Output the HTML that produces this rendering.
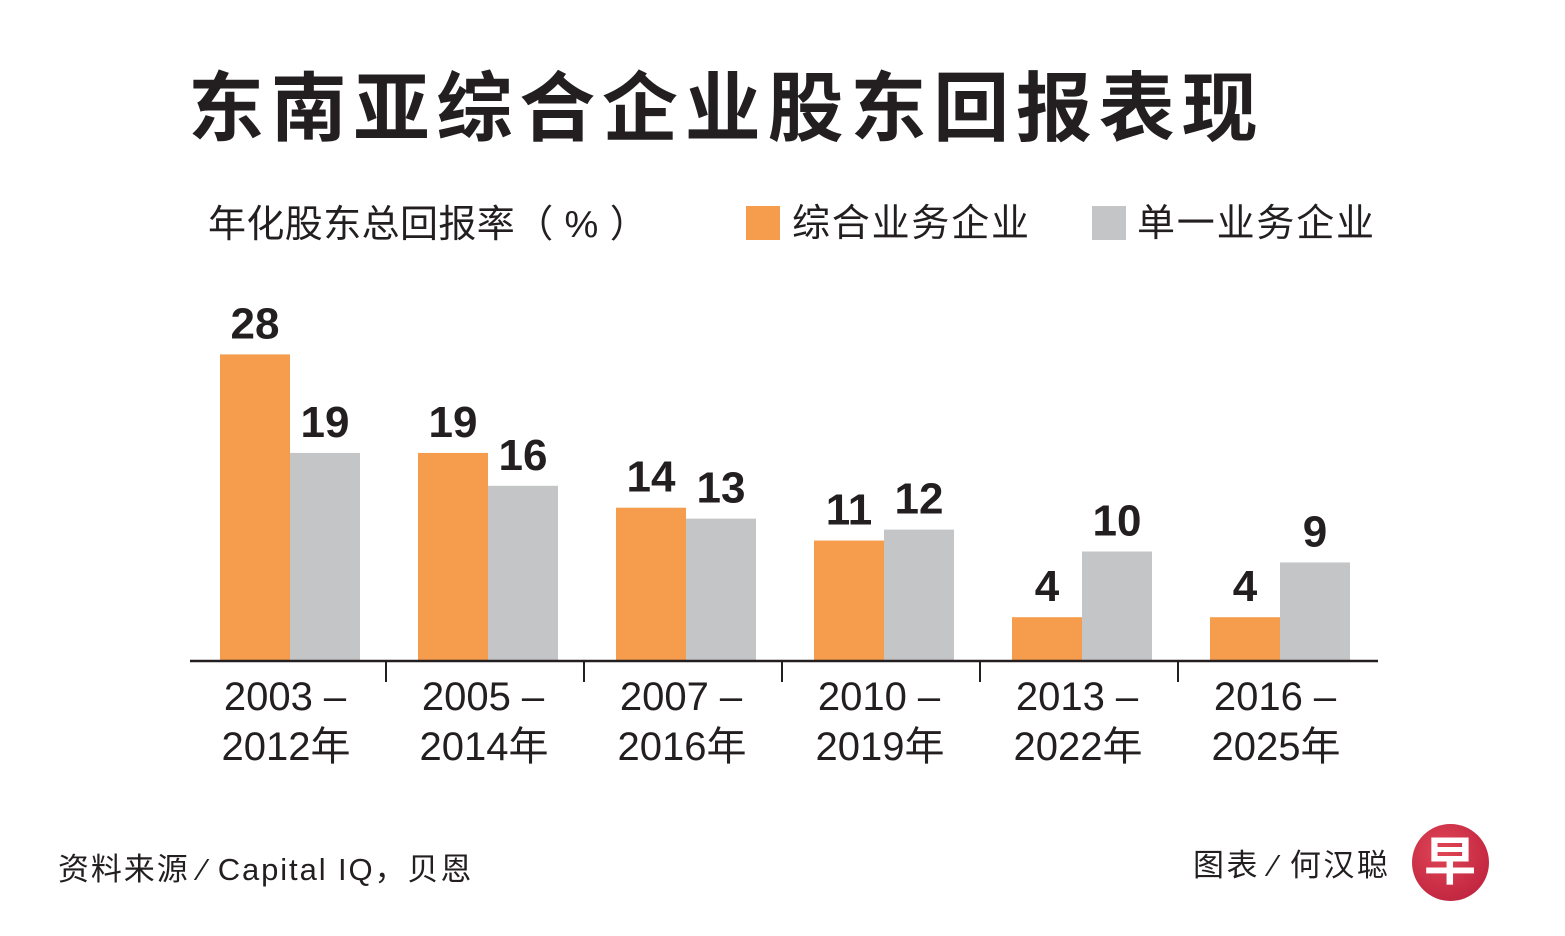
<!DOCTYPE html>
<html><head><meta charset="utf-8">
<style>
body{margin:0;background:#fff;}
#wrap{position:relative;width:1565px;height:936px;overflow:hidden;background:#fff;font-family:"Liberation Sans","Noto Sans CJK SC",sans-serif;color:#231f20;}
.t{position:absolute;white-space:nowrap;}
</style></head>
<body>
<div id="wrap">
<div class="t" style="left:188px;top:62px;font-size:76px;font-weight:bold;letter-spacing:6.8px;line-height:96px;">东南亚综合企业股东回报表现</div>
<div class="t" style="left:208px;top:200px;font-size:38px;line-height:50px;letter-spacing:0.4px;">年化股东总回报率（ % ）</div>
<div style="position:absolute;left:746px;top:206px;width:34px;height:34px;background:#f59c4d;"></div>
<div class="t" style="left:792px;top:199px;font-size:38px;line-height:50px;letter-spacing:1.8px;">综合业务企业</div>
<div style="position:absolute;left:1092px;top:206px;width:34px;height:34px;background:#c4c5c7;"></div>
<div class="t" style="left:1137px;top:199px;font-size:38px;line-height:50px;letter-spacing:1.8px;">单一业务企业</div>
<svg id="chart" width="1565" height="936" style="position:absolute;left:0;top:0;"></svg>
<div class="t" style="left:58px;top:850px;font-size:31px;line-height:40px;letter-spacing:1.9px;">资料来源 ⁄ Capital IQ，贝恩</div>
<div class="t" style="left:1193px;top:846px;font-size:31px;line-height:40px;letter-spacing:2.5px;">图表 ⁄ 何汉聪</div>
<div style="position:absolute;left:1412px;top:824px;width:77px;height:77px;border-radius:50%;background:radial-gradient(circle at 40% 35%,#e04555,#b81c3a);"></div>
<div class="t" style="left:1424px;top:830px;font-size:52px;line-height:66px;color:#fff;font-weight:bold;">早</div>
</div>
<script>
const categoriesTop=["2003 –","2005 –","2007 –","2010 –","2013 –","2016 –"];
const categoriesBottom=["2012年","2014年","2016年","2019年","2022年","2025年"];
const conglomerate=[28,19,14,11,4,4];
const single=[19,16,13,12,10,9];
const NS="http://www.w3.org/2000/svg";
const svg=document.getElementById('chart');
const baseY=661, pxPer=10.95, x0=190, groupW=198, barW=70, firstOffset=30;
function y(v){return baseY-v*pxPer;}
function gx(i){return x0+i*groupW;}
function mk(tag,attrs){const e=document.createElementNS(NS,tag);for(const k in attrs)e.setAttribute(k,attrs[k]);svg.appendChild(e);return e;}
for(let i=0;i<categoriesTop.length;i++){
  const xa=gx(i)+firstOffset, xb=xa+barW;
  const a=mk('rect',{x:xa,y:y(conglomerate[i]),width:barW,height:conglomerate[i]*pxPer,fill:'#f59c4d'});
  
  
  const b=mk('rect',{x:xb,y:y(single[i]),width:barW,height:single[i]*pxPer,fill:'#c4c5c7'});
  
  
  const ta=mk('text',{x:xa+barW/2,y:y(conglomerate[i])-16,'text-anchor':'middle','font-size':44,'font-weight':'bold',fill:'#231f20','font-family':'Liberation Sans'});
  ta.textContent=conglomerate[i];
  
  
  const tb=mk('text',{x:xb+barW/2,y:y(single[i])-16,'text-anchor':'middle','font-size':44,'font-weight':'bold',fill:'#231f20','font-family':'Liberation Sans'});
  tb.textContent=single[i];
  
  
  const l1=mk('text',{x:gx(i)+95,y:710,'text-anchor':'middle','font-size':40,fill:'#231f20','font-family':'Liberation Sans'});
  l1.textContent=categoriesTop[i];
  
  
  const l2=mk('text',{x:gx(i)+96,y:760,'text-anchor':'middle','font-size':40,fill:'#231f20','font-family':'Liberation Sans, Noto Sans CJK SC, sans-serif'});
  l2.textContent=categoriesBottom[i];
  
  
  if(i>0){
    const t=mk('line',{x1:gx(i)-2,x2:gx(i)-2,y1:baseY,y2:682,stroke:'#231f20','stroke-width':2});
    
    
  }
}
const ax=mk('line',{x1:190,x2:1378,y1:baseY,y2:baseY,stroke:'#231f20','stroke-width':2.5});


</script>
</body></html>
